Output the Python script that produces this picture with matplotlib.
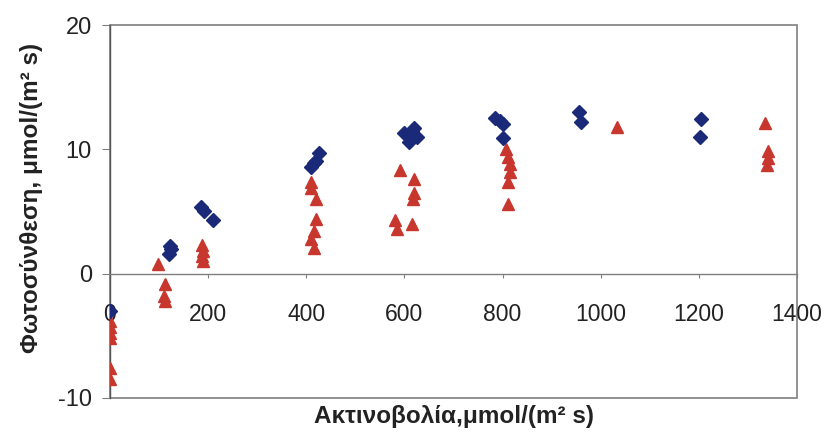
import matplotlib
matplotlib.use("Agg")
import matplotlib.pyplot as plt
from matplotlib.patches import Rectangle

plt.rcParams['font.family'] = ['Liberation Sans', 'DejaVu Sans']
plt.rcParams['axes.unicode_minus'] = False

# Series 1 (blue diamonds)
blue_x = [0, 120, 125, 122, 185, 192, 210, 410, 415, 420, 425,
          600, 610, 615, 620, 625, 785, 795, 800, 800, 955, 960, 1205, 1202]
blue_y = [-3.0, 1.6, 2.0, 2.2, 5.4, 5.0, 4.3, 8.6, 8.9, 9.1, 9.7,
          11.3, 10.6, 11.5, 11.7, 11.0, 12.5, 12.3, 12.0, 10.9, 13.0, 12.2, 12.4, 11.0]

# Series 2 (red triangles)
red_x = [0, 0, 0, 0, 0, 0, 98, 112, 110, 112, 187, 190, 188, 190,
         410, 410, 420, 420, 415, 410, 415,
         590, 620, 620, 618, 580, 585, 615,
         808, 812, 815, 815, 812, 812, 1033, 1335, 1340, 1340, 1338]
red_y = [-3.8, -4.3, -4.8, -5.2, -7.6, -8.5, 0.8, -0.8, -1.8, -2.2, 2.3, 1.8, 1.4, 1.0,
         7.4, 6.9, 6.0, 4.4, 3.4, 2.8, 2.1,
         8.3, 7.6, 6.5, 6.0, 4.3, 3.6, 4.0,
         10.0, 9.4, 8.8, 8.2, 7.4, 5.6, 11.8, 12.1, 9.9, 9.3, 8.7]

x_ticks = [0, 200, 400, 600, 800, 1000, 1200, 1400]
y_ticks = [-10, 0, 10, 20]

fig = plt.figure(figsize=(8.25, 4.32), dpi=100)
ax = fig.add_axes([110/825, 1 - 398/432, (797 - 110)/825, (398 - 25)/432])

gray = '#7f7f7f'
txt = '#222222'

ax.plot(red_x, red_y, linestyle='none', marker='^', markersize=8.5,
        color='#c8372d', markeredgecolor='#c8372d', zorder=3)
ax.plot(blue_x, blue_y, linestyle='none', marker='D', markersize=7,
        color='#1b2a78', markeredgecolor='#1b2a78', zorder=4)

ax.set_xlim(0, 1400)
ax.set_ylim(-10, 20)
ax.set_xticks(x_ticks)
ax.set_yticks(y_ticks)
ax.set_xticklabels([str(v) for v in x_ticks])

for s in ['top', 'right']:
    ax.spines[s].set_visible(False)
ax.spines['bottom'].set_position(('data', 0))
ax.spines['bottom'].set_color(gray)
ax.spines['left'].set_color('#555555')
ax.spines['left'].set_linewidth(1.0)
ax.spines['bottom'].set_linewidth(1.0)
ax.add_patch(Rectangle((0, 0), 1, 1, transform=ax.transAxes, fill=False,
                       edgecolor=gray, linewidth=1.2, zorder=1, clip_on=False))

ax.tick_params(axis='x', direction='out', length=3, pad=18, colors=gray,
               labelcolor=txt, labelsize=16.5)
ax.tick_params(axis='y', direction='out', length=6, pad=7, colors=gray,
               labelcolor=txt, labelsize=17)

ax.set_xlabel('Ακτινοβολία,μmol/(m² s)', fontsize=17.5, fontweight='bold',
              color=txt)
ax.xaxis.set_label_coords(0.5, -0.02)
ax.set_ylabel('Φωτοσύνθεση, μmol/(m² s)', fontsize=17.5, fontweight='bold',
              color=txt)
ax.yaxis.set_label_coords(-0.097, 0.536)

fig.savefig('out.png', dpi=100)
